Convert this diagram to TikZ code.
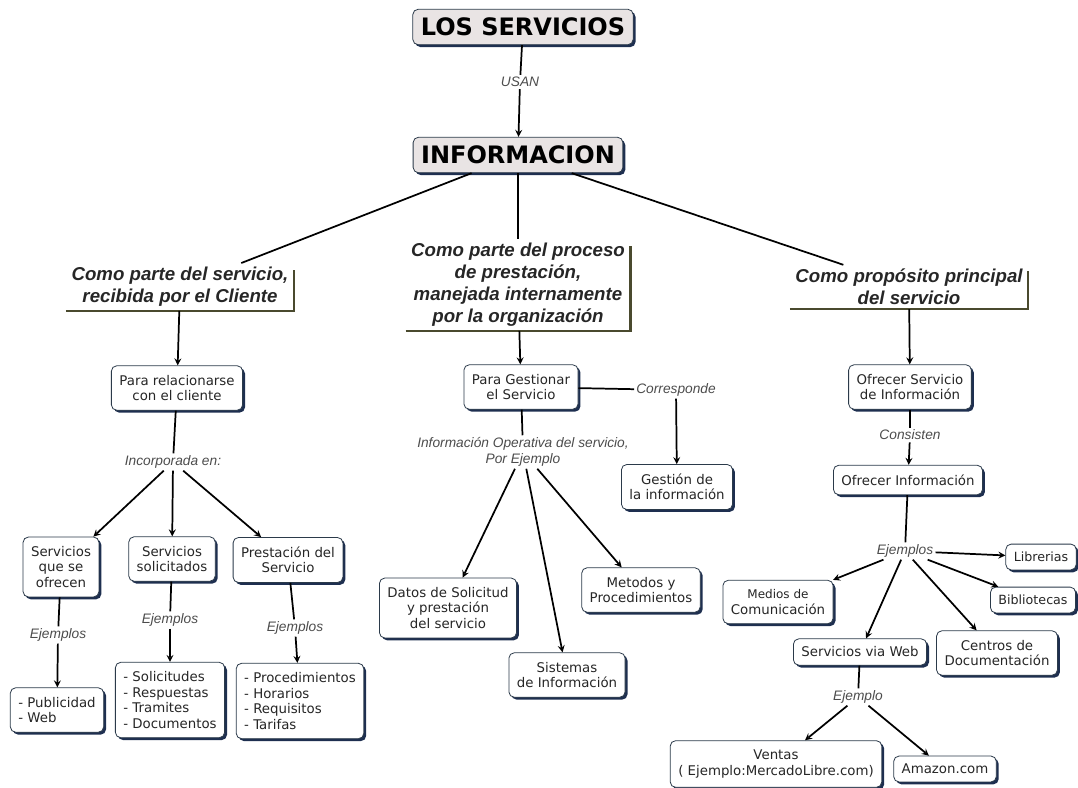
\documentclass[tikz,border=0pt]{standalone}
\usepackage{fontspec}
\setmainfont{DejaVu Sans}
\newfontfamily\labelfont{Liberation Sans}
\usetikzlibrary{shadows, arrows}
\definecolor{boxline}{HTML}{2B3A4A}
\definecolor{boxshade}{HTML}{1E2F50}
\definecolor{titlefill}{HTML}{E9E4E4}
\definecolor{olivedark}{HTML}{4A4A2E}
\tikzset{>=stealth,
cbox/.style={draw=boxline, line width=0.6pt, fill=white, rounded corners=4pt, align=center,
  inner xsep=6pt, inner ysep=7pt, text=black!85, font=\fontsize{10}{11.6}\selectfont,
  drop shadow={shadow xshift=1.8pt, shadow yshift=-1.8pt, fill=boxshade, opacity=1}},
titlebox/.style={cbox, fill=titlefill, text=black, font=\fontsize{18}{21}\selectfont\bfseries,
  inner xsep=6pt, inner ysep=6.5pt},
heading/.style={align=center, inner xsep=4pt, inner ysep=3pt, text=black!85,
  font=\fontsize{14}{16.5}\selectfont\labelfont\bfseries\itshape},
hframe/.style={draw=olivedark, line width=1.8pt},
link/.style={line width=1.3pt},
arrow/.style={link, ->},
linktag/.style={inner sep=1.5pt, align=center, text=black!70,
  font=\fontsize{10.3}{12}\selectfont\labelfont\itshape},
}
\begin{document}
\begin{tikzpicture}[x=0.75pt, y=-0.75pt]
	\useasboundingbox (0,0) rectangle (1078,788);
	% top
	\node[titlebox] (serv) at (523,27) {LOS SERVICIOS};
	\node[titlebox] (info) at (518,155) {INFORMACION};
	\node[linktag] (usan) at (520,82) {USAN};
	\draw[link] (serv) -- (usan);
	\draw[arrow] (usan) -- (info);
	% headings
	\node[heading] (cli) at (180,287) {Como parte del servicio,\\recibida por el Cliente};
	\node[heading] (org) at (518,285) {Como parte del proceso\\de prestación,\\manejada internamente\\por la organización};
	\node[heading] (prop) at (909,287) {Como propósito principal\\del servicio};
	\draw[hframe] (cli.south west) -- (cli.south east) -- ([yshift=-5pt]cli.north east);
	\draw[hframe] (org.south west) -- (org.south east) -- ([yshift=-5pt]org.north east);
	\draw[hframe] (prop.south west) -- (prop.south east) -- ([yshift=-5pt]prop.north east);
	\draw[link] (info) -- (cli);
	\draw[link] (info) -- (org);
	\draw[link] (info) -- (prop);
	% left branch
	\node[cbox] (rel) at (177,388) {Para relacionarse\\con el cliente};
	\node[linktag] (inc) at (173,462) {Incorporada en:};
	\node[cbox] (ofr) at (61,567) {Servicios\\que se\\ofrecen};
	\node[cbox] (sol) at (172,559) {Servicios\\solicitados};
	\node[cbox] (pre) at (288,560) {Prestación del\\Servicio};
	\draw[arrow] (cli) -- (rel);
	\draw[link] (rel) -- (inc);
	\draw[arrow] (inc) -- (ofr);
	\draw[arrow] (inc) -- (sol);
	\draw[arrow] (inc) -- (pre);
	\node[linktag] (ej1) at (58,635) {Ejemplos};
	\node[linktag] (ej2) at (170,620) {Ejemplos};
	\node[linktag] (ej3) at (295,628) {Ejemplos};
	\node[cbox, align=left] (pub) at (57,710) {- Publicidad\\- Web};
	\node[cbox, align=left] (sollst) at (170,700) {- Solicitudes\\- Respuestas\\- Tramites\\- Documentos};
	\node[cbox, align=left] (prelst) at (300,701) {- Procedimientos\\- Horarios\\- Requisitos\\- Tarifas};
	\draw[link] (ofr) -- (ej1);
	\draw[arrow] (ej1) -- (pub);
	\draw[link] (sol) -- (ej2);
	\draw[arrow] (ej2) -- (sollst);
	\draw[link] (pre) -- (ej3);
	\draw[arrow] (ej3) -- (prelst);
	% middle branch
	\node[cbox] (gest) at (521,387) {Para Gestionar\\el Servicio};
	\node[linktag] (corr) at (676,390) {Corresponde};
	\node[cbox] (ginf) at (677,487) {Gestión de\\la información};
	\node[linktag] (oper) at (523,452) {Información Operativa del servicio,\\Por Ejemplo};
	\node[cbox] (datos) at (448,608) {Datos de Solicitud\\y prestación\\del servicio};
	\node[cbox] (sist) at (567,675) {Sistemas\\de Información};
	\node[cbox] (met) at (641,590) {Metodos y\\Procedimientos};
	\draw[arrow] (org) -- (gest);
	\draw[link] (gest) -- (corr);
	\draw[arrow] (corr) -- (ginf);
	\draw[link] (gest) -- (oper);
	\draw[arrow] (oper) -- (datos);
	\draw[arrow] (oper) -- (sist);
	\draw[arrow] (oper) -- (met);
	% right branch
	\node[cbox] (osi) at (910,387) {Ofrecer Servicio\\de Información};
	\node[linktag] (cons) at (910,435) {Consisten};
	\node[cbox] (oinf) at (908,480) {Ofrecer Información};
	\node[linktag] (ej4) at (905,551) {Ejemplos};
	\node[cbox, font=\fontsize{9.5}{11}\selectfont, inner ysep=6pt] (libr) at (1041,557) {Librerias};
	\node[cbox, font=\fontsize{9.5}{11}\selectfont, inner ysep=6pt] (bibl) at (1033,600) {Bibliotecas};
	\node[cbox] (cent) at (997,653) {Centros de\\Documentación};
	\node[cbox, inner ysep=6pt] (web) at (860,652) {Servicios via Web};
	\node[cbox] (med) at (778,602) {{\fontsize{9}{11}\selectfont Medios de}\\Comunicación};
	\draw[arrow] (prop) -- (osi);
	\draw[link] (osi) -- (cons);
	\draw[arrow] (cons) -- (oinf);
	\draw[link] (oinf) -- (ej4);
	\draw[arrow] (ej4) -- (libr);
	\draw[arrow] (ej4) -- (bibl);
	\draw[arrow] (ej4) -- (cent);
	\draw[arrow] (ej4) -- (web);
	\draw[arrow] (ej4) -- (med);
	\node[linktag] (ej5) at (858,697) {Ejemplo};
	\node[cbox] (vent) at (776,764) {Ventas\\( Ejemplo:MercadoLibre.com)};
	\node[cbox, inner ysep=6pt] (amaz) at (945,769) {Amazon.com};
	\draw[link] (web) -- (ej5);
	\draw[arrow] (ej5) -- (vent);
	\draw[arrow] (ej5) -- (amaz);
\end{tikzpicture}
\end{document}
